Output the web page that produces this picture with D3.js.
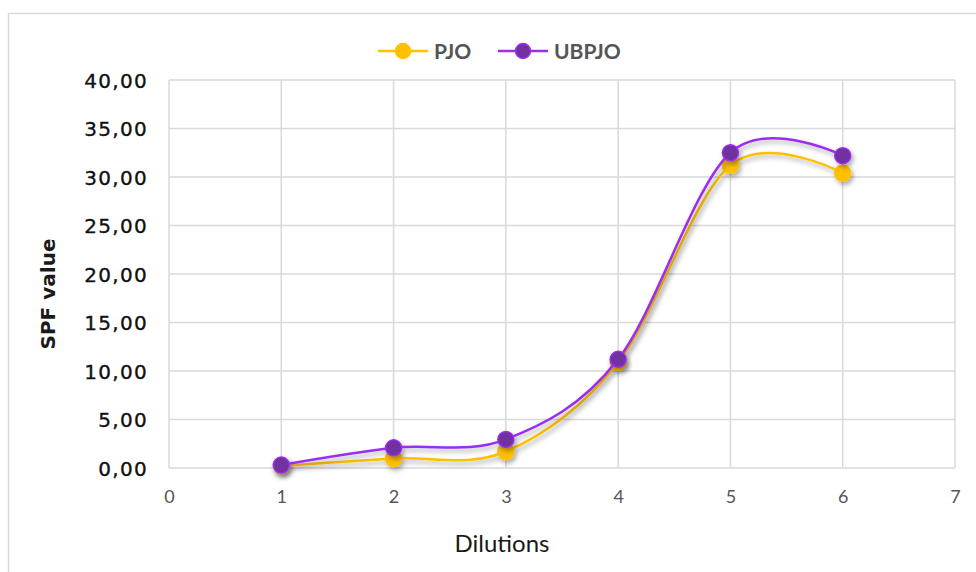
<!DOCTYPE html>
<html>
<head>
<meta charset="utf-8">
<script src="https://cdn.jsdelivr.net/npm/d3@7"></script>
<style>
  html, body { margin: 0; padding: 0; background: #fff; }
  svg { display: block; }
</style>
</head>
<body>
<svg id="chart" width="976" height="572"></svg>
<script>
// Dilution steps and SPF values per formulation
const dilutions = [1, 2, 3, 4, 5, 6];
const pjo = [0.22, 0.98, 1.70, 10.90, 31.20, 30.40];
const ubpjo = [0.30, 2.08, 2.95, 11.20, 32.50, 32.20];
const seriesNames = ["PJO", "UBPJO"];
const seriesColors = ["#FFC000", "#9A2EF0"];
const markerFills = ["#FFC000", "#7030A0"];
const yTicks = [0, 5, 10, 15, 20, 25, 30, 35, 40];
const xTicks = [0, 1, 2, 3, 4, 5, 6, 7];

const svg = d3.select("#chart");
const font = "Lato, 'Open Sans', sans-serif";
const wideFont = "'DejaVu Sans', Verdana, sans-serif";

// chart frame
svg.append("rect")
  .attr("x", 8.5).attr("y", 13.5)
  .attr("width", 1000).attr("height", 600)
  .attr("fill", "#fff").attr("stroke", "#d9d9d9").attr("stroke-width", 1.5);

const defs = svg.append("defs");
const shadow = defs.append("filter").attr("id", "shadow")
  .attr("x", "-20%").attr("y", "-20%").attr("width", "140%").attr("height", "160%");
shadow.append("feDropShadow")
  .attr("dx", 2).attr("dy", 3).attr("stdDeviation", 2.5)
  .attr("flood-color", "#000").attr("flood-opacity", 0.35);

const x = d3.scaleLinear().domain([0, 7]).range([169, 955]);
const y = d3.scaleLinear().domain([0, 40]).range([468, 80]);

// grid
const grid = svg.append("g");
grid.selectAll("line.h").data(yTicks).join("line")
  .attr("x1", x(0)).attr("x2", x(7))
  .attr("y1", d => y(d)).attr("y2", d => y(d))
  .attr("stroke", "#d9d9d9").attr("stroke-width", 1.5);
grid.selectAll("line.v").data(xTicks).join("line")
  .attr("y1", y(0)).attr("y2", y(40))
  .attr("x1", d => x(d)).attr("x2", d => x(d))
  .attr("stroke", "#d9d9d9").attr("stroke-width", 1.5);

// axes
const fmt = d => d3.format(".2f")(d).replace(".", ",");
const yAxis = svg.append("g")
  .attr("transform", `translate(${x(0) - 18},0)`)
  .call(d3.axisLeft(y).tickValues(yTicks).tickFormat(fmt).tickSize(0));
yAxis.select(".domain").remove();
yAxis.selectAll("text")
  .attr("font-family", wideFont).attr("font-size", 20)
  .attr("letter-spacing", 1.3)
  .attr("fill", "#111").attr("stroke", "#111").attr("stroke-width", 0.35)
  .attr("dy", "0.36em");

const xAxis = svg.append("g")
  .attr("transform", `translate(0,${y(0) + 19})`)
  .call(d3.axisBottom(x).tickValues(xTicks).tickFormat(d3.format("d")).tickSize(0));
xAxis.select(".domain").remove();
xAxis.selectAll("text")
  .attr("font-family", font).attr("font-size", 18)
  .attr("fill", "#555").attr("dy", "0.71em");

// axis titles
svg.append("text")
  .attr("x", 502).attr("y", 552)
  .attr("text-anchor", "middle")
  .attr("font-family", font).attr("font-size", 24)
  .attr("fill", "#1a1a1a").text("Dilutions");
svg.append("text")
  .attr("transform", "translate(55,294) rotate(-90)")
  .attr("text-anchor", "middle")
  .attr("font-family", wideFont).attr("font-size", 20).attr("font-weight", 700)
  .attr("fill", "#1a1a1a").text("SPF value");

// series
const series = [pjo, ubpjo];
const line = d3.line()
  .x((d, i) => x(dilutions[i]))
  .y(d => y(d))
  .curve(d3.curveCardinal.tension(0));

series.forEach((vals, s) => {
  const g = svg.append("g").attr("filter", "url(#shadow)");
  g.append("path")
    .datum(vals)
    .attr("d", line)
    .attr("fill", "none")
    .attr("stroke", seriesColors[s])
    .attr("stroke-width", 2.5);
  g.selectAll("circle").data(vals).join("circle")
    .attr("cx", (d, i) => x(dilutions[i]))
    .attr("cy", d => y(d))
    .attr("r", 8)
    .attr("fill", markerFills[s])
    .attr("stroke", seriesColors[s])
    .attr("stroke-width", 1.5);
});

// legend
const legendPos = [403, 523];
const legend = svg.append("g");
seriesNames.forEach((name, s) => {
  const cx = legendPos[s];
  legend.append("line")
    .attr("x1", cx - 25).attr("x2", cx + 25)
    .attr("y1", 51).attr("y2", 51)
    .attr("stroke", seriesColors[s]).attr("stroke-width", 2.5);
  legend.append("circle")
    .attr("cx", cx).attr("cy", 51).attr("r", 7.5)
    .attr("fill", markerFills[s])
    .attr("stroke", seriesColors[s]).attr("stroke-width", 1.5);
  legend.append("text")
    .attr("x", cx + 31).attr("y", 51).attr("dy", "0.36em")
    .attr("font-family", font).attr("font-size", 21).attr("font-weight", 700)
    .attr("fill", "#555").text(name);
});
</script>
</body>
</html>
